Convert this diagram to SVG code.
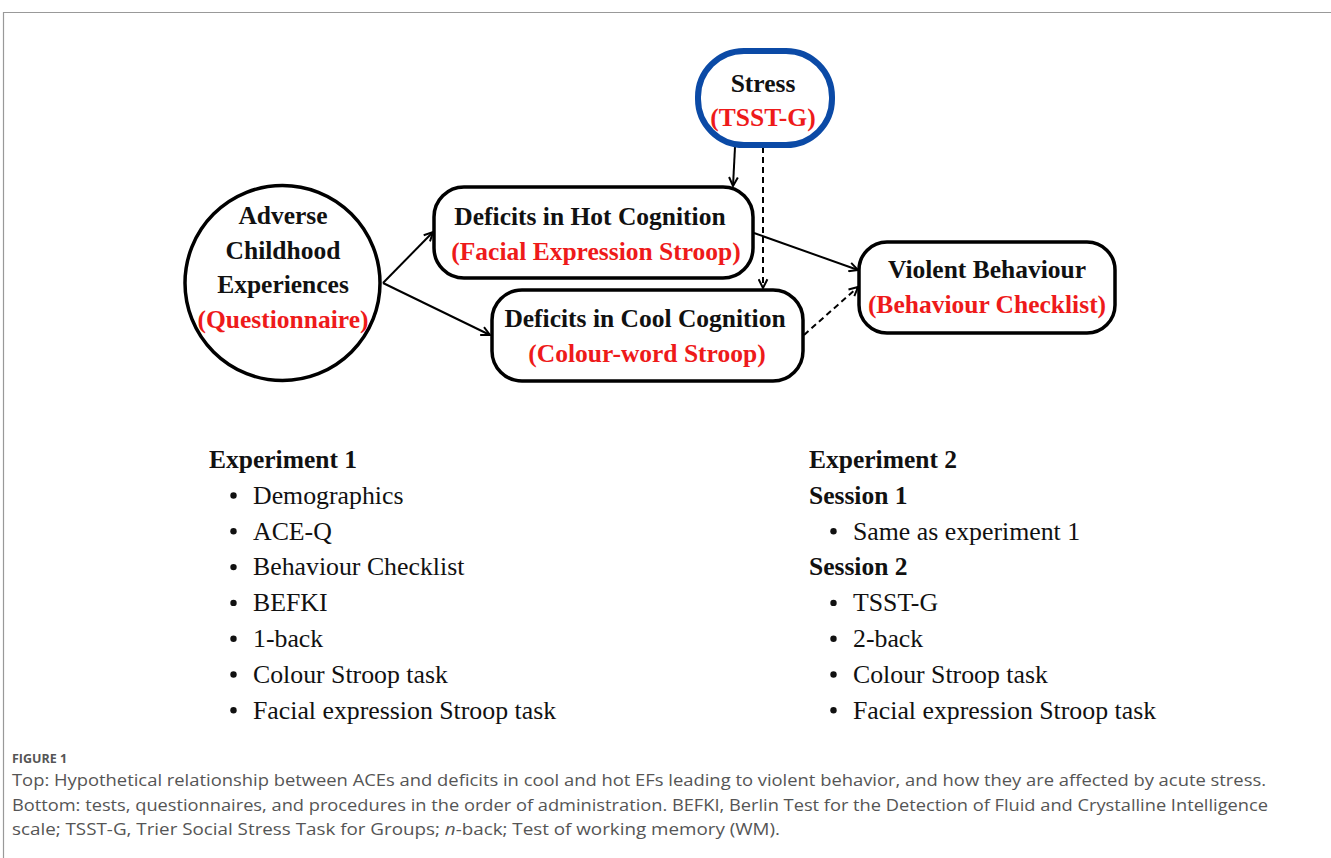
<svg xmlns="http://www.w3.org/2000/svg" width="1331" height="858" viewBox="0 0 1331 858">
<defs>
<style>
.node{fill:#fff;stroke:#000;stroke-width:3.5}
.stress{fill:#fff;stroke:#0b4aa6;stroke-width:6}
.t{font-family:"Liberation Serif","Times New Roman",serif;font-weight:bold;font-size:25.5px;text-anchor:middle;fill:#111}
.r{fill:#ee1a1a}
.h{font-family:"Liberation Serif","Times New Roman",serif;font-weight:bold;font-size:25.5px;fill:#111}
.li{font-family:"Liberation Serif","Times New Roman",serif;font-size:25.8px;fill:#111}
.c{font-family:"Open Sans","Noto Sans","Liberation Sans",sans-serif;font-size:16px;fill:#555}
.fig{font-family:"Open Sans","Noto Sans","Liberation Sans",sans-serif;font-size:12.5px;font-weight:bold;fill:#555}
.ln{fill:none;stroke:#000;stroke-width:2}
.dash{stroke-dasharray:6 4}
.bul{fill:#111}
</style>
<marker id="ah" viewBox="0 0 10 10" refX="9" refY="5" markerWidth="11" markerHeight="11" markerUnits="userSpaceOnUse" orient="auto">
<path d="M1,1 L9,5 L1,9" fill="none" stroke="#000" stroke-width="1.8"/>
</marker>
</defs>
<rect x="0" y="0" width="1331" height="858" fill="#fff"/>
<path d="M3.5,870 V12.5 H1340" fill="none" stroke="#999" stroke-width="1.2"/>

<g id="connectors">
<line class="ln" x1="383" y1="283" x2="433" y2="232" marker-end="url(#ah)"/>
<line class="ln" x1="383" y1="283" x2="490" y2="335" marker-end="url(#ah)"/>
<line class="ln" x1="735" y1="147" x2="733" y2="186" marker-end="url(#ah)"/>
<line class="ln dash" x1="763" y1="147" x2="763" y2="288" marker-end="url(#ah)"/>
<line class="ln" x1="754" y1="233" x2="858" y2="270" marker-end="url(#ah)"/>
<line class="ln dash" x1="804" y1="335" x2="858" y2="287" marker-end="url(#ah)"/>
</g>

<g id="node-ace">
<circle class="node" cx="282.5" cy="283" r="97.5"/>
<text class="t" x="283" y="224">Adverse</text>
<text class="t" x="283" y="258.5">Childhood</text>
<text class="t" x="283" y="293">Experiences</text>
<text class="t r" x="283" y="327.5">(Questionnaire)</text>
</g>

<g id="node-stress">
<rect class="stress" x="698" y="51" width="134" height="94" rx="46" ry="46"/>
<text class="t" x="763" y="92">Stress</text>
<text class="t r" x="763" y="126">(TSST-G)</text>
</g>

<g id="node-hot">
<rect class="node" x="434" y="187" width="319" height="91" rx="30" ry="30"/>
<text class="t" x="590" y="225">Deficits in Hot Cognition</text>
<text class="t r" x="596" y="260">(Facial Expression Stroop)</text>
</g>

<g id="node-cool">
<rect class="node" x="492" y="290" width="311" height="91" rx="30" ry="30"/>
<text class="t" x="645" y="327">Deficits in Cool Cognition</text>
<text class="t r" x="647" y="362">(Colour-word Stroop)</text>
</g>

<g id="node-violent">
<rect class="node" x="859" y="242" width="256" height="91" rx="28" ry="28"/>
<text class="t" x="987" y="278">Violent Behaviour</text>
<text class="t r" x="987" y="313">(Behaviour Checklist)</text>
</g>

<g id="exp1">
<text class="h" x="209" y="468">Experiment 1</text>
<circle class="bul" cx="233.5" cy="495.5" r="3.2"/><text class="li" x="253" y="503.8">Demographics</text>
<circle class="bul" cx="233.5" cy="531.3" r="3.2"/><text class="li" x="253" y="539.6">ACE-Q</text>
<circle class="bul" cx="233.5" cy="567.1" r="3.2"/><text class="li" x="253" y="575.4">Behaviour Checklist</text>
<circle class="bul" cx="233.5" cy="602.9" r="3.2"/><text class="li" x="253" y="611.2">BEFKI</text>
<circle class="bul" cx="233.5" cy="638.7" r="3.2"/><text class="li" x="253" y="647">1-back</text>
<circle class="bul" cx="233.5" cy="674.5" r="3.2"/><text class="li" x="253" y="682.8">Colour Stroop task</text>
<circle class="bul" cx="233.5" cy="710.3" r="3.2"/><text class="li" x="253" y="718.6">Facial expression Stroop task</text>
</g>

<g id="exp2">
<text class="h" x="809" y="468">Experiment 2</text>
<text class="h" x="809" y="503.8">Session 1</text>
<circle class="bul" cx="833.5" cy="531.3" r="3.2"/><text class="li" x="853" y="539.6">Same as experiment 1</text>
<text class="h" x="809" y="575.4">Session 2</text>
<circle class="bul" cx="833.5" cy="602.9" r="3.2"/><text class="li" x="853" y="611.2">TSST-G</text>
<circle class="bul" cx="833.5" cy="638.7" r="3.2"/><text class="li" x="853" y="647">2-back</text>
<circle class="bul" cx="833.5" cy="674.5" r="3.2"/><text class="li" x="853" y="682.8">Colour Stroop task</text>
<circle class="bul" cx="833.5" cy="710.3" r="3.2"/><text class="li" x="853" y="718.6">Facial expression Stroop task</text>
</g>

<g id="caption">
<text class="fig" x="12" y="763">FIGURE 1</text>
<text class="c" x="12" y="786" textLength="1254" lengthAdjust="spacingAndGlyphs">Top: Hypothetical relationship between ACEs and deficits in cool and hot EFs leading to violent behavior, and how they are affected by acute stress.</text>
<text class="c" x="12" y="811" textLength="1256" lengthAdjust="spacingAndGlyphs">Bottom: tests, questionnaires, and procedures in the order of administration. BEFKI, Berlin Test for the Detection of Fluid and Crystalline Intelligence</text>
<text class="c" x="12" y="835" textLength="768" lengthAdjust="spacingAndGlyphs">scale; TSST-G, Trier Social Stress Task for Groups; <tspan font-style="italic">n</tspan>-back; Test of working memory (WM).</text>
</g>
</svg>
